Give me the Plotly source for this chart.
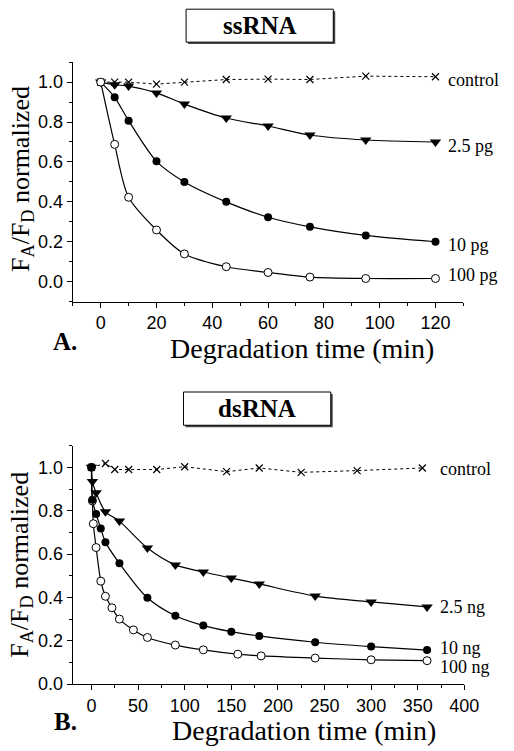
import plotly.graph_objects as go

W, H = 514, 751

# ---------------- Data: panel A (ssRNA) ----------------
ss_time = [0, 5, 10, 20, 30, 45, 60, 75, 95, 120]
ss_control = [1.0, 1.0, 1.0, 0.99, 1.0, 1.013, 1.015, 1.013, 1.03, 1.027]
ss_2_5pg = [1.0, 0.987, 0.98, 0.946, 0.89, 0.82, 0.78, 0.735, 0.71, 0.70]
ss_10pg = [1.0, 0.924, 0.807, 0.603, 0.50, 0.40, 0.323, 0.275, 0.232, 0.20]
ss_100pg = [1.0, 0.688, 0.423, 0.259, 0.139, 0.075, 0.046, 0.023, 0.016, 0.016]

# ---------------- Data: panel B (dsRNA) ----------------
ds_ctrl_time = [0, 15, 25, 40, 70, 100, 145, 180, 225, 285, 355]
ds_control = [1.0, 1.018, 0.99, 0.99, 0.99, 1.003, 0.98, 0.997, 0.977, 0.985, 0.997]
ds_25_time = [0, 1, 5, 15, 30, 60, 90, 120, 150, 180, 240, 300, 360]
ds_2_5ng = [1.0, 0.935, 0.883, 0.795, 0.752, 0.628, 0.55, 0.517, 0.489, 0.462, 0.406, 0.379, 0.356]
ds_10_time = [0, 1, 5, 10, 15, 30, 60, 90, 120, 150, 180, 240, 300, 360]
ds_10ng = [1.0, 0.85, 0.785, 0.718, 0.655, 0.557, 0.398, 0.315, 0.27, 0.242, 0.222, 0.193, 0.173, 0.157]
ds_100_time = [0, 1, 2, 5, 10, 15, 22, 30, 45, 60, 90, 120, 157, 182, 240, 300, 360]
ds_100ng = [1.0, 0.845, 0.74, 0.63, 0.475, 0.405, 0.352, 0.30, 0.25, 0.215, 0.18, 0.158,
            0.138, 0.13, 0.12, 0.112, 0.108]

SERIF = "'Liberation Serif', 'Times New Roman', Times, serif"
SANS = "'Liberation Sans', Arial, Helvetica, sans-serif"
BLACK = "black"


def px(x):
    return x / W


def py(y):
    return 1 - y / H


fig = go.Figure()


def add_series(xs, ys, kind, xa, ya):
    if kind == "control":
        fig.add_trace(go.Scatter(
            x=xs, y=ys, xaxis=xa, yaxis=ya, mode="lines+markers",
            line=dict(color=BLACK, width=1, dash="dot"),
            marker=dict(symbol="x-thin", size=7, line=dict(color=BLACK, width=1.2)),
            showlegend=False))
    elif kind == "tri":
        fig.add_trace(go.Scatter(
            x=xs, y=ys, xaxis=xa, yaxis=ya, mode="lines+markers",
            line=dict(color=BLACK, width=1.2, shape="spline", smoothing=0.8),
            marker=dict(symbol="triangle-down", size=10, color=BLACK),
            showlegend=False))
    elif kind == "fill":
        fig.add_trace(go.Scatter(
            x=xs, y=ys, xaxis=xa, yaxis=ya, mode="lines+markers",
            line=dict(color=BLACK, width=1.2, shape="spline", smoothing=0.8),
            marker=dict(symbol="circle", size=8, color=BLACK),
            showlegend=False))
    else:
        fig.add_trace(go.Scatter(
            x=xs, y=ys, xaxis=xa, yaxis=ya, mode="lines+markers",
            line=dict(color=BLACK, width=1.2, shape="spline", smoothing=0.8),
            marker=dict(symbol="circle", size=8, color="white",
                        line=dict(color=BLACK, width=1)),
            showlegend=False))


# panel A
add_series(ss_time, ss_control, "control", "x", "y")
add_series(ss_time, ss_2_5pg, "tri", "x", "y")
add_series(ss_time, ss_10pg, "fill", "x", "y")
add_series(ss_time, ss_100pg, "open", "x", "y")

# panel B
add_series(ds_ctrl_time, ds_control, "control", "x2", "y2")
add_series(ds_100_time, ds_100ng, "open", "x2", "y2")
add_series(ds_10_time, ds_10ng, "fill", "x2", "y2")
add_series(ds_25_time, ds_2_5ng, "tri", "x2", "y2")

axis_common = dict(
    showline=True, linecolor=BLACK, linewidth=1.3, mirror=False,
    ticks="outside", ticklen=5, tickwidth=1.2, tickcolor=BLACK,
    showgrid=False, zeroline=False,
    tickfont=dict(family=SANS, size=18, color=BLACK),
)

fig.update_layout(
    width=W, height=H,
    margin=dict(l=0, r=0, t=0, b=0),
    paper_bgcolor="white", plot_bgcolor="white",
    showlegend=False,
    font=dict(family=SERIF, color=BLACK),
    xaxis=dict(domain=[px(75), px(477.3)], range=[-10, 130], anchor="y",
               tickvals=[0, 20, 40, 60, 80, 100, 120],
               minor=dict(dtick=10, tick0=0, ticks="outside", ticklen=3,
                          tickwidth=1, tickcolor=BLACK),
               **axis_common),
    yaxis=dict(domain=[py(305.7), py(63)], range=[-0.1, 1.1], anchor="x",
               tickvals=[0, 0.2, 0.4, 0.6, 0.8, 1.0], tickformat=".1f",
               minor=dict(dtick=0.1, tick0=0, ticks="outside", ticklen=3,
                          tickwidth=1, tickcolor=BLACK),
               **axis_common),
    xaxis2=dict(domain=[px(75), px(478.3)], range=[-20, 400], anchor="y2",
                tickvals=[0, 50, 100, 150, 200, 250, 300, 350, 400],
                minor=dict(dtick=25, tick0=0, ticks="outside", ticklen=3,
                           tickwidth=1, tickcolor=BLACK),
                **axis_common),
    yaxis2=dict(domain=[py(693.3), py(451.7)], range=[0, 1.1], anchor="x2",
                tickvals=[0, 0.2, 0.4, 0.6, 0.8, 1.0], tickformat=".1f",
                minor=dict(dtick=0.1, tick0=0, ticks="outside", ticklen=3,
                           tickwidth=1, tickcolor=BLACK),
                **axis_common),
)

ann = []


def label(text, x, y, xa, ya, yshift):
    ann.append(dict(text=text, x=x, y=y, xref=xa, yref=ya, xanchor="left",
                    yanchor="middle", xshift=11, yshift=yshift, showarrow=False,
                    font=dict(family=SERIF, size=18, color=BLACK)))


label("control", ss_time[-1], ss_control[-1], "x", "y", -3)
label("2.5 pg", ss_time[-1], ss_2_5pg[-1], "x", "y", -4)
label("10 pg", ss_time[-1], ss_10pg[-1], "x", "y", -3)
label("100 pg", ss_time[-1], ss_100pg[-1], "x", "y", 3)

label("control", ds_25_time[-1], ds_control[-1], "x2", "y2", -1)
label("2.5 ng", ds_25_time[-1], ds_2_5ng[-1], "x2", "y2", 0)
label("10 ng", ds_10_time[-1], ds_10ng[-1], "x2", "y2", 2)
label("100 ng", ds_100_time[-1], ds_100ng[-1], "x2", "y2", -6)


def paper_text(text, x, y, size, bold=False, angle=0):
    ann.append(dict(text=f"<b>{text}</b>" if bold else text,
                    x=px(x), y=py(y), xref="paper", yref="paper",
                    xanchor="center", yanchor="middle", showarrow=False,
                    textangle=angle,
                    font=dict(family=SERIF, size=size, color=BLACK)))


# axis titles
paper_text("Degradation time (min)", 311, 353, 28)
paper_text("Degradation time (min)", 313, 740, 28)
ytitle = "F<sub>A</sub>/F<sub>D</sub> normalized"
paper_text(ytitle, 22, 181, 26, angle=-90)
paper_text(ytitle, 22, 572, 26, angle=-90)

# panel letters
paper_text("A.", 66.5, 346, 25, bold=True)
paper_text("B.", 67.5, 731, 25, bold=True)

# boxed titles
paper_text("ssRNA", 267.5, 26, 25, bold=True)
paper_text("dsRNA", 265, 414, 25, bold=True)

fig.update_layout(annotations=ann)

shapes = []
for (x0, y0, x1, y1) in [(191.7, 9.3, 343.3, 42.7), (189, 397.3, 340.7, 431)]:
    shapes.append(dict(type="rect", xref="paper", yref="paper",
                       x0=px(x0 + 2), x1=px(x1 + 2), y0=py(y1 + 2), y1=py(y0 + 2),
                       fillcolor="#444444", line=dict(width=0), layer="below"))
    shapes.append(dict(type="rect", xref="paper", yref="paper",
                       x0=px(x0), x1=px(x1), y0=py(y1), y1=py(y0),
                       fillcolor="white", line=dict(color=BLACK, width=1),
                       layer="below"))
fig.update_layout(shapes=shapes)

fig.write_html(
    "out.html",
    config={"displayModeBar": False},
    post_script="document.body.style.margin='0';document.body.style.overflow='hidden';",
)
